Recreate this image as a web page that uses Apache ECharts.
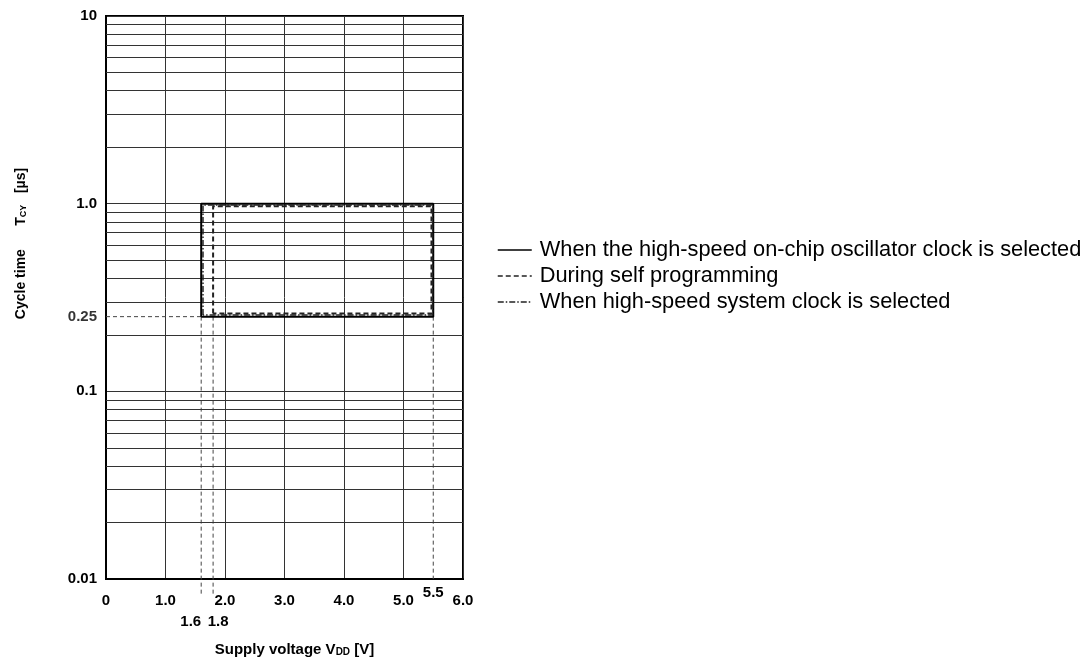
<!DOCTYPE html>
<html><head><meta charset="utf-8">
<script src="https://cdn.jsdelivr.net/npm/echarts@6/dist/echarts.min.js"></script>
<style>html,body{margin:0;padding:0;background:#fff}#c{width:1087px;height:668px}</style>
</head><body><div id="c"></div>
<script>
// ---- data ----
const xMin = 0, xMax = 6, xStep = 1;
const xExtraLabelA = [1.6];
const xExtraLabelB = [1.8];
const xExtraHighLabels = [5.5];
const yMin = 0.01, yMax = 10;
const yDecadeLabels = {0.01: '0.01', 0.1: '0.1', 1: '1.0', 10: '10'};
const yMinorGrid = [0.02,0.03,0.04,0.05,0.06,0.07,0.08,0.09,
                    0.2,0.3,0.4,0.5,0.6,0.7,0.8,0.9,
                    2,3,4,5,6,7,8,9];
const onChipRect   = [[1.6,0.25],[1.6,1.0],[5.5,1.0],[5.5,0.25],[1.6,0.25]];
const selfProgRect = [[1.8,0.26],[1.8,0.97],[5.47,0.97],[5.47,0.26],[1.8,0.26]];
const sysClockRect = [[1.63,0.255],[1.63,0.985],[5.49,0.985],[5.49,0.255],[1.63,0.255]];
const guideV16 = [[1.6,0.25],[1.6,0.0082]];
const guideV18 = [[1.8,0.25],[1.8,0.0082]];
const guideV55 = [[5.5,0.25],[5.5,0.01]];
const guideH025 = [[0,0.25],[1.6,0.25]];
const label025 = [[0,0.25]];
const seriesNames = [
  'When the high-speed on-chip oscillator clock is selected',
  'During self programming',
  'When high-speed system clock is selected'
];

// ---- chart ----
const FONT = '"Liberation Sans", Arial, Helvetica, sans-serif';
const chart = echarts.init(document.getElementById('c'), null, {renderer: 'canvas'});
const guideStyle = {color: '#444', width: 1, type: [4, 3]};
function guide(data) {
  return {type: 'line', data: data, symbol: 'none', clip: false, silent: true,
          lineStyle: guideStyle, z: 3, legendHoverLink: false};
}
const hiddenX = (values, margin, extraLabel) => ({
  type: 'value', min: xMin, max: xMax, position: 'bottom',
  axisLine: {show: false}, axisTick: {show: false}, splitLine: {show: false},
  axisLabel: Object.assign({customValues: values, margin: margin, formatter: v => v.toFixed(1),
              color: '#000', fontWeight: 'bold', fontSize: 15, fontFamily: FONT}, extraLabel || {})
});
chart.setOption({
  animation: false,
  textStyle: {fontFamily: FONT},
  grid: {left: 106, right: 624, top: 16, bottom: 89, show: true,
         borderColor: '#000', borderWidth: 2, containLabel: false},
  legend: {
    orient: 'vertical', left: 492, top: 234, itemWidth: 34, itemHeight: 14, itemGap: 4,
    itemStyle: {opacity: 0},
    lineStyle: {width: 1.5},
    textStyle: {fontSize: 21.8, lineHeight: 22, color: '#000', fontFamily: FONT, padding: [0,0,0,3]},
    data: seriesNames
  },
  xAxis: [{
    type: 'value', min: xMin, max: xMax, interval: xStep, position: 'bottom',
    axisLine: {lineStyle: {color: '#000', width: 2}},
    axisTick: {show: false},
    splitLine: {show: true, lineStyle: {color: '#333', width: 1}},
    axisLabel: {margin: 14, color: '#000', fontWeight: 'bold', fontSize: 15, fontFamily: FONT,
                formatter: v => v === 0 ? '0' : v.toFixed(1)},
    name: 'Supply voltage V{sub|DD} [V]', nameLocation: 'middle', nameGap: 63,
    nameTextStyle: {color: '#000', fontWeight: 'bold', fontSize: 15, fontFamily: FONT,
                    padding: [0, 0, 0, 20],
                    rich: {sub: {fontSize: 10, fontWeight: 'bold', fontFamily: FONT, color: '#000', padding: [5,0,0,0]}}}
  },
  hiddenX(xExtraLabelA, 35, {align: 'right', padding: [0, 0, 0, 0]}),
  hiddenX(xExtraLabelB, 35, {align: 'center', padding: [0, 0, 0, 10]}),
  hiddenX(xExtraHighLabels, 6)],
  yAxis: {
    type: 'log', logBase: 10, min: yMin, max: yMax,
    axisLine: {lineStyle: {color: '#000', width: 2}},
    axisTick: {show: false},
    splitLine: {show: true, lineStyle: {color: '#333', width: 1}},
    axisLabel: {margin: 9, color: '#000', fontWeight: 'bold', fontSize: 15, fontFamily: FONT,
                formatter: v => yDecadeLabels[+v.toPrecision(6)] || ''},
    name: 'Cycle time      T{sub|CY}   [µs]', nameLocation: 'middle', nameRotate: 90, nameGap: 78,
    nameTextStyle: {color: '#000', fontWeight: 'bold', fontSize: 14, fontFamily: FONT,
                    padding: [0, 0, 0, 108],
                    rich: {sub: {fontSize: 9, fontWeight: 'bold', fontFamily: FONT, color: '#000', padding: [5,0,0,0]}}}
  },
  series: [
    {type: 'line', data: [[xMin, yMin]], symbol: 'none', silent: true, lineStyle: {opacity: 0},
     markLine: {silent: true, symbol: 'none', label: {show: false}, animation: false,
                lineStyle: {color: '#333', width: 1, type: 'solid'},
                data: yMinorGrid.map(v => ({yAxis: v}))}, z: 1},
    guide(guideV16), guide(guideV18), guide(guideV55), guide(guideH025),
    {type: 'scatter', data: label025, symbolSize: 0, clip: false, silent: true,
     label: {show: true, position: 'left', distance: 9, formatter: '0.25', color: '#000',
             fontWeight: 'bold', fontSize: 15, fontFamily: FONT}},
    {name: seriesNames[0], type: 'line', data: onChipRect, symbol: 'none', z: 5,
     lineStyle: {color: '#000', width: 2, type: 'solid'}, itemStyle: {color: '#000'}},
    {name: seriesNames[1], type: 'line', data: selfProgRect, symbol: 'none', z: 6,
     lineStyle: {color: '#222', width: 2, type: [5, 3]}, itemStyle: {color: '#222'}},
    {name: seriesNames[2], type: 'line', data: sysClockRect, symbol: 'none', z: 6,
     lineStyle: {color: '#222', width: 1.5, type: [6, 2, 1.5, 2]}, itemStyle: {color: '#222'}}
  ]
});
</script>
</body></html>
